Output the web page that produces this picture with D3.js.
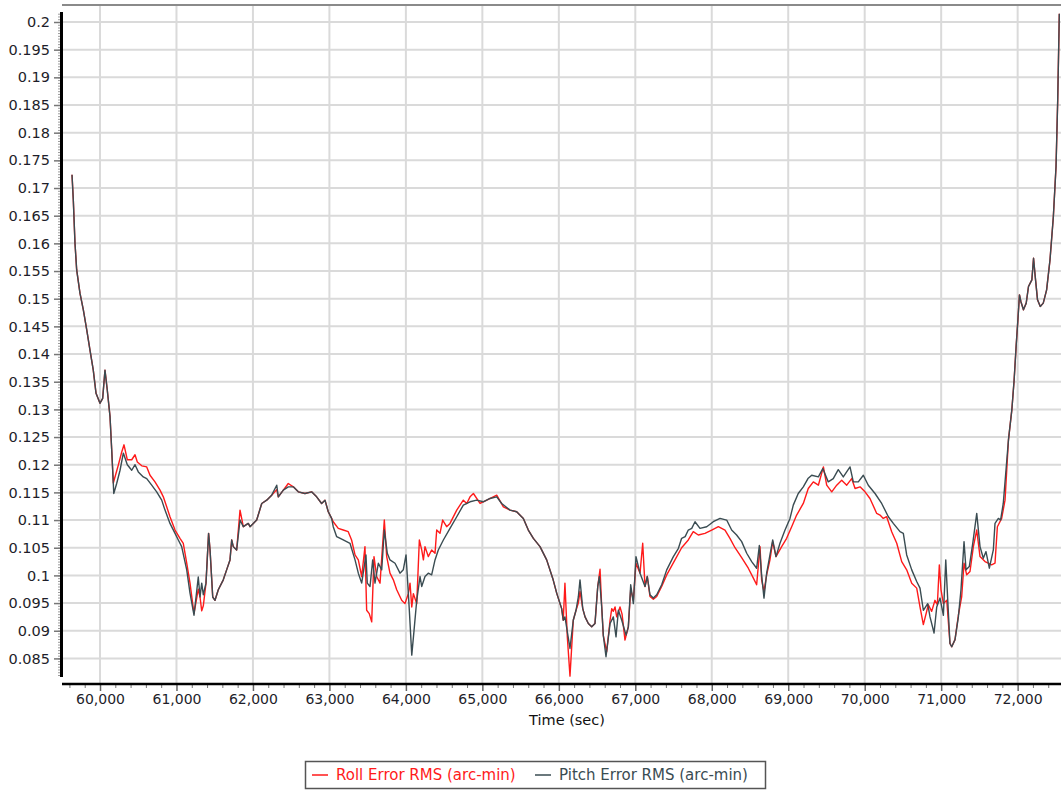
<!DOCTYPE html>
<html>
<head>
<meta charset="utf-8">
<script src="https://cdn.jsdelivr.net/npm/d3@7"></script>
<style>
  html, body { margin: 0; padding: 0; background: #ffffff; }
  svg { display: block; font-family: "DejaVu Sans", Verdana, sans-serif; }
</style>
</head>
<body>
<svg id="chart" width="1061" height="791"></svg>
<script>
// ---------------- DATA ----------------
const seriesNames = ["Roll Error RMS (arc-min)", "Pitch Error RMS (arc-min)"];
const xTicks = [60000, 61000, 62000, 63000, 64000, 65000, 66000, 67000, 68000, 69000, 70000, 71000, 72000];
const yTicks = [0.085, 0.09, 0.095, 0.1, 0.105, 0.11, 0.115, 0.12, 0.125, 0.13, 0.135, 0.14, 0.145, 0.15, 0.155, 0.16, 0.165, 0.17, 0.175, 0.18, 0.185, 0.19, 0.195, 0.2];
const xTitle = "Time (sec)";

// shared beginning (both series coincide)
const sharedHead = [
  [59634,0.1724],[59651,0.1678],[59673,0.16],[59695,0.1552],[59738,0.151],[59782,0.148],
  [59826,0.1444],[59869,0.1407],[59912,0.1371],[59948,0.1329],[60000,0.1311],[60035,0.132],
  [60065,0.1371],[60095,0.1335],[60131,0.1287],[60153,0.1227]
];

// shared ending (both series coincide)
const sharedTail = [
  [71880,0.1245],[71924,0.1299],[71954,0.1353],[71981,0.1416],[72003,0.1461],[72024,0.1507],
  [72042,0.1495],[72076,0.148],[72112,0.1492],[72142,0.1522],[72186,0.1534],[72208,0.1573],
  [72230,0.154],[72260,0.1498],[72296,0.1486],[72335,0.1492],[72379,0.1516],[72423,0.157],
  [72467,0.1648],[72502,0.1739],[72524,0.1859],[72545,0.2015]
];

const rollBody = [
  [60174,0.1167],[60239,0.1199],[60284,0.1223],[60314,0.1236],[60357,0.1209],[60415,0.1209],
  [60458,0.1218],[60488,0.1205],[60546,0.1198],[60611,0.1196],[60654,0.1181],[60719,0.1169],
  [60785,0.1154],[60828,0.1142],[60872,0.1124],[60915,0.1106],[60981,0.1082],[61046,0.1067],
  [61089,0.1058],[61134,0.1022],[61177,0.0986],[61229,0.0931],
  [61285,0.0975],[61308,0.0961],[61330,0.0936],[61351,0.0945],[61386,0.0986],[61420,0.1076],
  [61439,0.1046],[61474,0.0961],[61504,0.0955],[61547,0.0974],[61612,0.0992],[61656,0.101],
  [61700,0.1028],[61722,0.1064],[61743,0.1052],[61787,0.1046],[61831,0.1118],[61874,0.1088],
  [61939,0.1094],[61962,0.1088],[62049,0.11],[62115,0.113],[62180,0.1136],[62245,0.1145],
  [62311,0.1155],[62332,0.1142],[62397,0.1154],[62462,0.1166],[62528,0.116],[62593,0.1151],
  [62680,0.1148],[62767,0.1151],[62833,0.1142],[62898,0.113],[62942,0.1136],[62985,0.1115],
  [63029,0.1103],
  [63050,0.1097],[63116,0.1085],[63181,0.1082],[63246,0.1079],[63290,0.1064],[63335,0.1037],
  [63378,0.1028],[63422,0.0998],[63465,0.1052],[63487,0.0937],[63521,0.0931],[63553,0.0916],
  [63583,0.1034],[63618,0.0998],[63662,0.0986],[63697,0.1058],[63718,0.11],[63749,0.1034],
  [63792,0.1004],[63836,0.0992],[63880,0.0974],[63945,0.0955],[63988,0.0949],[64032,0.0967],
  [64054,0.0986],[64077,0.0943],[64098,0.0967],[64142,0.0949],[64176,0.1064],[64207,0.1046],
  [64229,0.1028],[64250,0.1052],[64293,0.1034],[64337,0.1046],[64381,0.104],[64403,0.1082],
  [64446,0.1076],[64481,0.11],[64533,0.1088],[64577,0.1094],[64665,0.1118],[64751,0.1136],
  [64796,0.113],[64839,0.1142],[64883,0.1148],[64970,0.113],[65058,0.1136],[65188,0.1145],
  [65275,0.1124],
  [65362,0.1118],[65449,0.1115],[65536,0.1103],[65601,0.1082],[65667,0.1067],[65754,0.1052],
  [65841,0.1028],[65926,0.0992],[65972,0.0968],[66037,0.094],
  [66058,0.0919],[66080,0.0986],[66111,0.0889],[66146,0.0818],[66189,0.0919],[66225,0.0937],
  [66255,0.095],[66277,0.0971],[66313,0.094],[66343,0.0925],[66386,0.0913],[66430,0.0907],
  [66473,0.0913],[66509,0.098],[66539,0.1011],[66561,0.0943],[66582,0.0891],[66626,0.0862],
  [66670,0.0919],[66692,0.094],[66713,0.0935],[66735,0.0943],[66757,0.0925],[66800,0.0943],
  [66827,0.093],[66865,0.0883],[66909,0.0907],[66940,0.0975],[66975,0.0955],[67009,0.1022],
  [67062,0.1004],[67097,0.1058],[67127,0.098],[67157,0.0998],[67192,0.0962],[67236,0.0957],
  [67280,0.0962],[67345,0.098],
  [67411,0.1001],[67519,0.1028],[67606,0.105],[67693,0.1064],[67758,0.1079],[67824,0.1073],
  [67911,0.1076],[67999,0.1082],[68086,0.1088],[68173,0.1082],[68238,0.1067],[68304,0.105],
  [68391,0.1032],[68478,0.1013],[68544,0.0995],[68587,0.0983],[68631,0.1052],[68652,0.0992],
  [68683,0.0971],[68718,0.1001],[68761,0.1028],[68797,0.1061],[68840,0.1034],[68914,0.1052],
  [68979,0.1067],[69045,0.1088],[69110,0.1109],[69197,0.113],[69262,0.1157],[69328,0.1169],
  [69394,0.1163],[69460,0.1196],[69503,0.1163],[69569,0.1151],[69634,0.1163],[69699,0.1172],
  [69765,0.1163],[69830,0.1175],[69874,0.1157],[69939,0.116],[70004,0.1151],[70069,0.1139],
  [70157,0.1112],[70200,0.1109],[70243,0.1103],[70287,0.1106],[70353,0.1079],[70419,0.1058],
  [70484,0.1025],[70549,0.101],[70615,0.0986],[70680,0.0977],[70723,0.0943],[70767,0.0911],
  [70832,0.0947],[70876,0.0935],[70919,0.0955],[70950,0.0947],[70976,0.1019],[70998,0.0974],
  [71029,0.0949],[71073,0.0955],[71115,0.0877],[71138,0.0871],[71181,0.0884],[71225,0.0928],
  [71268,0.0961],[71299,0.1022],[71334,0.1001],[71377,0.1007],[71421,0.1052],[71465,0.1082],
  [71508,0.1034],[71573,0.1025],[71615,0.1022],[71660,0.1019],[71704,0.1022],[71735,0.1088],
  [71791,0.1103],[71835,0.1136]
];

const pitchBody = [
  [60180,0.1148],[60218,0.1166],[60262,0.119],[60305,0.1221],[60357,0.12],[60415,0.119],
  [60458,0.12],[60501,0.1187],[60566,0.1178],[60611,0.1175],[60676,0.1163],[60741,0.1151],
  [60807,0.1136],[60850,0.1118],[60915,0.1094],[60981,0.1076],[61024,0.1064],[61068,0.1052],
  [61134,0.101],[61177,0.0968],[61229,0.0928],
  [61285,0.0997],[61308,0.0961],[61330,0.0986],[61351,0.0965],[61386,0.0986],[61420,0.1076],
  [61439,0.1046],[61474,0.0961],[61504,0.0955],[61547,0.0974],[61612,0.0992],[61656,0.101],
  [61700,0.1028],[61722,0.1064],[61743,0.1052],[61787,0.1046],[61831,0.11],[61874,0.1088],
  [61939,0.1094],[61962,0.1088],[62049,0.11],[62115,0.113],[62180,0.1136],[62245,0.1145],
  [62311,0.1163],[62332,0.1142],[62397,0.1154],[62462,0.116],[62528,0.116],[62593,0.1151],
  [62680,0.1148],[62767,0.1151],[62833,0.1142],[62898,0.113],[62942,0.1136],[62985,0.1115],
  [63029,0.1103],
  [63050,0.1088],[63095,0.107],[63181,0.1064],[63269,0.1058],[63335,0.1028],[63378,0.1004],
  [63422,0.0986],[63478,0.1037],[63495,0.0986],[63531,0.098],[63566,0.1028],[63596,0.0986],
  [63640,0.1022],[63684,0.101],[63718,0.1082],[63757,0.104],[63792,0.1028],[63858,0.1022],
  [63923,0.1004],[63966,0.101],[64002,0.1037],[64019,0.0998],[64045,0.0937],[64077,0.0856],
  [64107,0.0901],[64142,0.0955],[64185,0.0998],[64207,0.098],[64250,0.0998],[64293,0.1004],
  [64337,0.1001],[64381,0.1028],[64424,0.1046],[64490,0.1064],[64577,0.1085],[64665,0.1106],
  [64751,0.1127],[64839,0.1133],[64926,0.1136],[65012,0.1133],[65100,0.1139],[65188,0.1142],
  [65253,0.113],
  [65362,0.1118],[65449,0.1115],[65536,0.1103],[65601,0.1082],[65667,0.1067],[65754,0.1052],
  [65841,0.1028],[65926,0.0992],[65972,0.0968],[66037,0.094],
  [66058,0.0919],[66080,0.0925],[66146,0.0868],[66189,0.0919],[66225,0.0937],[66255,0.0961],
  [66277,0.0992],[66313,0.094],[66343,0.0925],[66386,0.0913],[66430,0.0907],[66473,0.0913],
  [66509,0.098],[66530,0.0998],[66561,0.0943],[66582,0.0891],[66617,0.0853],[66670,0.0913],
  [66713,0.0925],[66748,0.0889],[66779,0.0937],[66823,0.0919],[66879,0.0892],[66909,0.0907],
  [66940,0.0983],[66975,0.0949],[67009,0.1034],[67062,0.1004],[67127,0.098],[67157,0.0998],
  [67192,0.0965],[67236,0.0959],[67280,0.0965],[67345,0.0983],
  [67411,0.101],[67498,0.1034],[67564,0.1049],[67606,0.1067],[67652,0.107],[67693,0.1082],
  [67738,0.1085],[67781,0.1097],[67846,0.1085],[67934,0.1088],[68020,0.1097],[68108,0.1103],
  [68195,0.11],[68260,0.1082],[68325,0.1073],[68391,0.1061],[68457,0.104],[68522,0.1025],
  [68587,0.1013],[68622,0.1054],[68652,0.1001],[68683,0.0959],[68718,0.1004],[68761,0.1037],
  [68797,0.1064],[68840,0.1034],[68892,0.1058],[68958,0.1082],[69023,0.1103],[69066,0.1127],
  [69131,0.1148],[69197,0.116],[69258,0.1175],[69307,0.1181],[69394,0.1178],[69452,0.1193],
  [69523,0.1169],[69589,0.1175],[69654,0.1191],[69720,0.1178],[69808,0.1196],[69851,0.1169],
  [69916,0.1169],[69982,0.1181],[70047,0.1163],[70135,0.1148],[70222,0.113],[70309,0.1106],
  [70374,0.1094],[70462,0.1079],[70505,0.1076],[70549,0.1037],[70615,0.101],[70680,0.0989],
  [70723,0.0977],[70767,0.0937],[70824,0.0949],[70854,0.0925],[70907,0.0896],[70942,0.0943],
  [70985,0.0959],[71029,0.0928],[71060,0.1028],[71086,0.0955],[71115,0.0877],[71138,0.0871],
  [71181,0.0884],[71225,0.0925],[71259,0.0974],[71299,0.1061],[71325,0.101],[71368,0.1016],
  [71413,0.1058],[71465,0.1112],[71508,0.1052],[71551,0.1031],[71586,0.1043],[71630,0.1013],
  [71682,0.1046],[71704,0.1094],[71748,0.1103],[71777,0.11],[71812,0.113]
];

const rollPoints = sharedHead.concat(rollBody, sharedTail);
const pitchPoints = sharedHead.concat(pitchBody, sharedTail);

const seriesColors = ["#ff1a1a", "#3a4c52"];

// ---------------- LAYOUT ----------------
const plot = { left: 62, right: 1061, top: 5, bottom: 684 };
const FONT = "DejaVu Sans, Verdana, sans-serif";

const svg = d3.select("#chart");

const x = d3.scaleLinear()
  .domain([59503, 72567])
  .range([plot.left, plot.right]);

const y = d3.scaleLinear()
  .domain([0.080376, 0.203072])
  .range([plot.bottom, plot.top]);

// gridlines
const grid = svg.append("g");
grid.selectAll("line.vg").data(xTicks).join("line")
  .attr("x1", d => x(d)).attr("x2", d => x(d))
  .attr("y1", plot.top).attr("y2", plot.bottom)
  .attr("stroke", "#dadada").attr("stroke-width", 2);
grid.selectAll("line.hg").data(yTicks).join("line")
  .attr("x1", plot.left).attr("x2", plot.right)
  .attr("y1", d => y(d)).attr("y2", d => y(d))
  .attr("stroke", "#dadada").attr("stroke-width", 2);

// top border
svg.append("line")
  .attr("x1", plot.left).attr("x2", plot.right)
  .attr("y1", plot.top).attr("y2", plot.top)
  .attr("stroke", "#8a8a8a").attr("stroke-width", 2);

// lines
const line = d3.line().x(d => x(d[0])).y(d => y(d[1]));
[rollPoints, pitchPoints].forEach((pts, i) => {
  svg.append("path")
    .datum(pts)
    .attr("fill", "none")
    .attr("stroke", seriesColors[i])
    .attr("stroke-width", 1.4)
    .attr("stroke-linejoin", "round")
    .attr("d", line);
});

// y axis minor ticks
const yMinor = d3.range(0.082, 0.2016, 0.0005).map(v => +v.toFixed(4));
const yMinorAxis = d3.axisLeft(y).tickValues(yMinor).tickSize(3).tickFormat("");
const gYm = svg.append("g").attr("transform", `translate(${plot.left - 1},0)`).call(yMinorAxis);
gYm.select(".domain").remove();
gYm.selectAll(".tick line").attr("stroke", "#9a9a9a").attr("stroke-width", 1);

// y axis major
const yAxis = d3.axisLeft(y).tickValues(yTicks).tickSize(7).tickPadding(4)
  .tickFormat(d => String(+d.toFixed(3)));
const gY = svg.append("g").attr("transform", `translate(${plot.left - 1},0)`).call(yAxis);
gY.select(".domain").remove();
gY.selectAll(".tick line").attr("stroke", "#777").attr("stroke-width", 1.5);
gY.selectAll(".tick text").attr("font-size", 14.5).attr("fill", "#1e1e2a")
  .attr("font-family", FONT);

// y axis line
svg.append("line")
  .attr("x1", plot.left - 0.5).attr("x2", plot.left - 0.5)
  .attr("y1", 12).attr("y2", 677)
  .attr("stroke", "#000").attr("stroke-width", 3);

// x axis minor ticks
const xMinor = d3.range(59600, 72567, 200).filter(v => v % 1000 !== 0);
const xMinorAxis = d3.axisBottom(x).tickValues(xMinor).tickSize(4).tickFormat("");
const gXm = svg.append("g").attr("transform", `translate(0,${plot.bottom})`).call(xMinorAxis);
gXm.select(".domain").remove();
gXm.selectAll(".tick line").attr("stroke", "#777").attr("stroke-width", 1);

// x axis major
const xAxis = d3.axisBottom(x).tickValues(xTicks).tickSize(7).tickPadding(3.5)
  .tickFormat(d3.format(","));
const gX = svg.append("g").attr("transform", `translate(0,${plot.bottom})`).call(xAxis);
gX.select(".domain").remove();
gX.selectAll(".tick line").attr("stroke", "#666").attr("stroke-width", 1.5);
gX.selectAll(".tick text").attr("font-size", 14).attr("fill", "#1e1e2a")
  .attr("font-family", FONT);

// x axis line
svg.append("line")
  .attr("x1", plot.left).attr("x2", plot.right)
  .attr("y1", plot.bottom).attr("y2", plot.bottom)
  .attr("stroke", "#000").attr("stroke-width", 2.5);

// x title
svg.append("text")
  .attr("x", 567).attr("y", 725)
  .attr("text-anchor", "middle")
  .attr("font-size", 14.5).attr("fill", "#111")
  .attr("font-family", FONT)
  .text(xTitle);

// legend
const lg = svg.append("g");
lg.append("rect")
  .attr("x", 305.5).attr("y", 761.5).attr("width", 460).attr("height", 27)
  .attr("fill", "#fff").attr("stroke", "#555").attr("stroke-width", 1.5);
const legendX = [312, 535];
seriesNames.forEach((name, i) => {
  lg.append("line")
    .attr("x1", legendX[i]).attr("x2", legendX[i] + 16)
    .attr("y1", 775).attr("y2", 775)
    .attr("stroke", seriesColors[i]).attr("stroke-width", 1.5);
  lg.append("text")
    .attr("x", legendX[i] + 24).attr("y", 780)
    .attr("font-size", 15).attr("fill", seriesColors[i])
    .attr("font-family", FONT)
    .text(name);
});
</script>
</body>
</html>
